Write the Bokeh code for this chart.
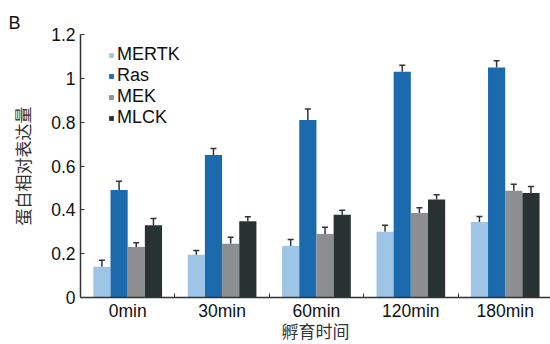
import math
from bokeh.plotting import figure
from bokeh.models import (ColumnDataSource, Range1d, FixedTicker, Whisker, TeeHead,
                          Legend, LegendItem)
from bokeh.embed import file_html
from bokeh.resources import INLINE

times = ["0min", "30min", "60min", "120min", "180min"]
series = ["MERTK", "Ras", "MEK", "MLCK"]
mertk = [0.14, 0.195, 0.235, 0.30, 0.345]
ras = [0.49, 0.65, 0.81, 1.03, 1.05]
mek = [0.23, 0.245, 0.29, 0.385, 0.487]
mlck = [0.33, 0.348, 0.378, 0.447, 0.477]
mertk_err = [0.03, 0.02, 0.03, 0.03, 0.025]
ras_err = [0.04, 0.03, 0.05, 0.03, 0.03]
mek_err = [0.02, 0.03, 0.03, 0.025, 0.03]
mlck_err = [0.03, 0.02, 0.02, 0.022, 0.03]
y_ticks = [0, 0.2, 0.4, 0.6, 0.8, 1.0, 1.2]

colors = ["#9fc5e6", "#1c6aae", "#8d8e90", "#293233"]
values = [mertk, ras, mek, mlck]
errors = [mertk_err, ras_err, mek_err, mlck_err]
bar_w = 0.182
offsets = [-1.5 * bar_w, -0.5 * bar_w, 0.5 * bar_w, 1.5 * bar_w]

W, H = 550, 344
LEFT, TOP, BOTTOM = 80, 34, 46
p = figure(width=W, height=H, output_backend="svg", toolbar_location=None,
           x_range=Range1d(0, 4.98), y_range=Range1d(0, 1.2),
           min_border_left=LEFT, min_border_right=0, min_border_top=TOP,
           min_border_bottom=BOTTOM)
p.outline_line_color = None
p.grid.grid_line_color = None
p.background_fill_color = "white"

# panel label "B"
p.title.text = "B"
p.title.align = "left"
p.title.offset = 8 - LEFT
p.title.standoff = 3
p.title.text_font = "Liberation Sans"
p.title.text_font_size = "18px"
p.title.text_font_style = "normal"
p.title.text_color = "#111111"

centers = [i + 0.5 for i in range(len(times))]
items = []
for name, vals, errs, col, off in zip(series, values, errors, colors, offsets):
    src = ColumnDataSource(dict(
        x=[c + off for c in centers],
        top=vals,
        upper=[v + e for v, e in zip(vals, errs)],
    ))
    r = p.vbar(x="x", top="top", width=bar_w, bottom=0, source=src,
               fill_color=col, line_color=None)
    w = Whisker(base="x", lower="top", upper="upper", source=src,
                line_color="#333333", line_width=1.5,
                upper_head=TeeHead(size=6, line_color="#333333", line_width=1.5),
                lower_head=None)
    p.add_layout(w)
    items.append(LegendItem(label=name, renderers=[r]))

# axes
xa = p.xaxis[0]
xa.ticker = FixedTicker(ticks=centers, minor_ticks=[1, 2, 3, 4])
xa.major_label_overrides = {c: t for c, t in zip(centers, times)}
xa.major_tick_line_color = None
xa.major_tick_in = 0
xa.major_tick_out = 0
xa.minor_tick_in = 4
xa.minor_tick_out = 0
xa.minor_tick_line_color = "#333333"
xa.axis_line_color = "#333333"
xa.axis_line_width = 1.5
xa.major_label_text_font = "Liberation Sans"
xa.major_label_text_font_size = "17.5px"
xa.major_label_text_color = "#111111"
xa.major_label_standoff = 3
xa.axis_label = "孵育时间"
xa.axis_label_text_font = "Liberation Sans, Noto Sans CJK SC"
xa.axis_label_text_font_style = "normal"
xa.axis_label_text_font_size = "17px"
xa.axis_label_text_color = "#333333"
xa.axis_label_standoff = -1

ya = p.yaxis[0]
ya.ticker = FixedTicker(ticks=y_ticks)
ya.major_label_overrides = {0: "0", 1: "1"}
ya.major_tick_in = 4
ya.major_tick_out = 0
ya.minor_tick_line_color = None
ya.major_tick_line_color = "#333333"
ya.axis_line_color = "#333333"
ya.axis_line_width = 1.5
ya.major_label_text_font = "Liberation Sans"
ya.major_label_text_font_size = "17.5px"
ya.major_label_text_color = "#111111"
ya.major_label_standoff = 5
ya.axis_label = "蛋白相对表达量"
ya.axis_label_text_font = "Noto Sans CJK SC"
ya.axis_label_text_font_style = "normal"
ya.axis_label_text_font_size = "17px"
ya.axis_label_text_color = "#333333"
ya.axis_label_standoff = 13

legend = Legend(items=items, location=(28, 169), orientation="vertical",
                padding=0, margin=0, spacing=0, glyph_width=6, glyph_height=6,
                label_standoff=3, label_height=20,
                label_text_font="Liberation Sans", label_text_font_size="18px",
                label_text_color="#111111",
                background_fill_alpha=0, border_line_color=None)
p.add_layout(legend, "center")

open("out.html", "w").write(file_html(p, INLINE))
